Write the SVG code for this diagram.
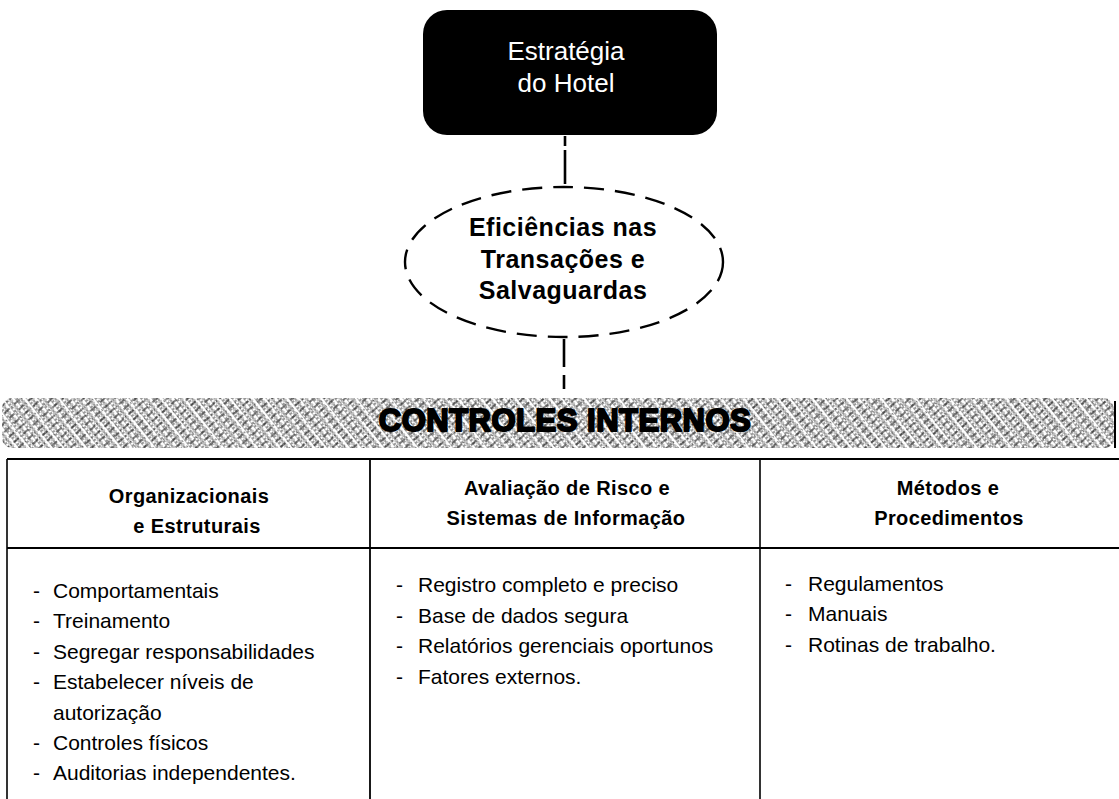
<svg xmlns="http://www.w3.org/2000/svg" width="1119" height="799" viewBox="0 0 1119 799">
<defs>
<pattern id="hatch1" patternUnits="userSpaceOnUse" width="9" height="4" patternTransform="rotate(-38)">
<line x1="0" y1="1" x2="9" y2="1" stroke="#000" stroke-width="1.2" stroke-dasharray="3 1 2 3"/>
<line x1="0" y1="3" x2="9" y2="3" stroke="#555" stroke-width="0.9" stroke-dasharray="1 2 4 2"/>
</pattern>
<pattern id="hatch2" patternUnits="userSpaceOnUse" width="13" height="7" patternTransform="rotate(-42)">
<line x1="0" y1="2" x2="13" y2="2" stroke="#000" stroke-width="1.3" stroke-dasharray="7 2 1 3"/>
</pattern>
<style>
.hdr{font-family:"Liberation Sans",Arial,sans-serif;font-weight:bold;font-size:20px;letter-spacing:0.4px;fill:#000;text-anchor:middle}
.item{font-family:"Liberation Sans",Arial,sans-serif;font-size:21px;fill:#000}
.ell{font-family:"Liberation Sans",Arial,sans-serif;font-weight:bold;font-size:25px;letter-spacing:0.5px;fill:#000;text-anchor:middle}
.box{font-family:"Liberation Sans",Arial,sans-serif;font-size:26px;fill:#fff;text-anchor:middle}
.line{stroke:#000;fill:none}
.dash{stroke:#000;stroke-width:2.6;fill:none}
</style>
</defs>
<rect width="1119" height="799" fill="#fff"/>

<g id="connectors">
<line class="dash" x1="565" y1="136" x2="565" y2="184" stroke-dasharray="10 4 34 10"/>
<line class="dash" x1="564" y1="339" x2="564" y2="398" stroke-dasharray="28 8 14 20"/>
</g>

<g id="strategy">
<rect x="423" y="10" width="294" height="125" rx="24" ry="24" fill="#000"/>
<text class="box" x="566" y="60">Estratégia</text>
<text class="box" x="566" y="92">do Hotel</text>
</g>

<g id="efficiencies">
<ellipse cx="564" cy="262" rx="159" ry="75" fill="none" stroke="#000" stroke-width="2.4" stroke-dasharray="20 11"/>
<text class="ell" x="563" y="236">Eficiências nas</text>
<text class="ell" x="563" y="268">Transações e</text>
<text class="ell" x="563" y="299">Salvaguardas</text>
</g>

<g id="controles-internos">
<rect x="2" y="398" width="1113" height="50" rx="10" fill="url(#hatch1)" opacity="0.8"/>
<rect x="2" y="398" width="1113" height="50" rx="10" fill="url(#hatch2)" opacity="0.65"/>
<line x1="1115" y1="401" x2="1115" y2="448" stroke="#000" stroke-width="2"/>
<text x="565" y="431" font-family="Liberation Sans,Arial,sans-serif" font-size="31" font-weight="bold" text-anchor="middle" letter-spacing="0.5" stroke="#000" stroke-width="2" stroke-linejoin="round" fill="#000">CONTROLES INTERNOS</text>
</g>

<g id="table">
<line class="line" x1="7" y1="459" x2="1119" y2="459" stroke-width="2.2"/>
<line class="line" x1="7" y1="548" x2="1119" y2="548" stroke-width="1.8"/>
<line class="line" x1="7" y1="459" x2="7" y2="799" stroke-width="1.6"/>
<line class="line" x1="370" y1="459" x2="370" y2="799" stroke-width="1.8"/>
<line class="line" x1="760" y1="459" x2="760" y2="799" stroke-width="1.6"/>
</g>

<g id="col-organizacionais">
<text class="hdr" x="189" y="503">Organizacionais</text>
<text class="hdr" x="197" y="533">e Estruturais</text>
<text class="item" x="33" y="598">-</text><text class="item" x="53" y="598">Comportamentais</text>
<text class="item" x="33" y="628">-</text><text class="item" x="53" y="628">Treinamento</text>
<text class="item" x="33" y="659">-</text><text class="item" x="53" y="659">Segregar responsabilidades</text>
<text class="item" x="33" y="689">-</text><text class="item" x="53" y="689">Estabelecer níveis de</text>
<text class="item" x="53" y="720">autorização</text>
<text class="item" x="33" y="750">-</text><text class="item" x="53" y="750">Controles físicos</text>
<text class="item" x="33" y="780">-</text><text class="item" x="53" y="780">Auditorias independentes.</text>
</g>

<g id="col-avaliacao">
<text class="hdr" x="567" y="495">Avaliação de Risco e</text>
<text class="hdr" x="566" y="525">Sistemas de Informação</text>
<text class="item" x="396" y="592">-</text><text class="item" x="418" y="592">Registro completo e preciso</text>
<text class="item" x="396" y="623">-</text><text class="item" x="418" y="623">Base de dados segura</text>
<text class="item" x="396" y="653">-</text><text class="item" x="418" y="653">Relatórios gerenciais oportunos</text>
<text class="item" x="396" y="684">-</text><text class="item" x="418" y="684">Fatores externos.</text>
</g>

<g id="col-metodos">
<text class="hdr" x="948" y="495">Métodos e</text>
<text class="hdr" x="949" y="525">Procedimentos</text>
<text class="item" x="785" y="591">-</text><text class="item" x="808" y="591">Regulamentos</text>
<text class="item" x="785" y="621">-</text><text class="item" x="808" y="621">Manuais</text>
<text class="item" x="785" y="652">-</text><text class="item" x="808" y="652">Rotinas de trabalho.</text>
</g>
</svg>
